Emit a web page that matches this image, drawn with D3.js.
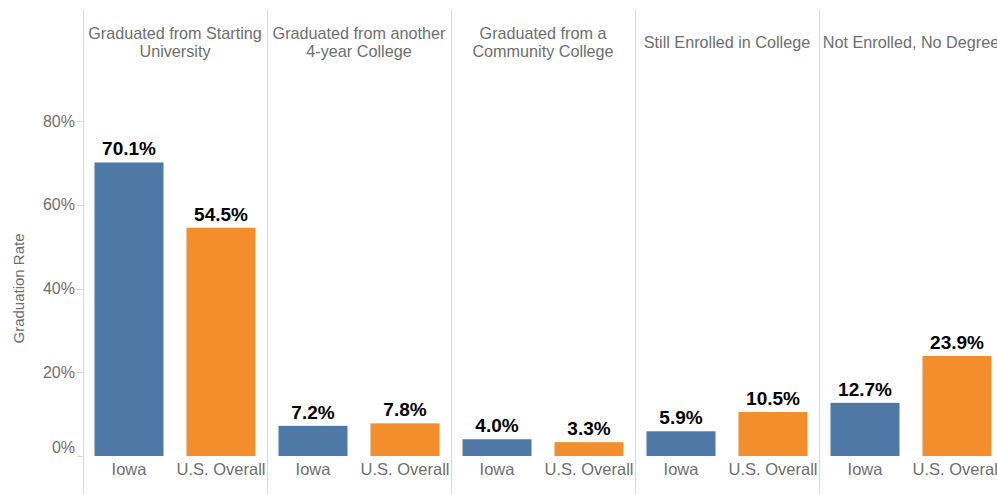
<!DOCTYPE html>
<html lang="en">
  <head>
    <title>Graduation Rate</title>
    <script src="https://d3js.org/d3.v7.min.js"></script>
    <style>
      body {
        margin: 0;
        background-color: #fff;
        font-family: "Liberation Sans", Arial, sans-serif;
      }
      .sep {
        stroke: #d9d9d9;
        stroke-width: 1px;
      }
      .header,
      .cat,
      .tick-label,
      .axis-title {
        fill: #6e6e6e;
      }
      .header {
        font-size: 16.2px;
      }
      .cat {
        font-size: 16.5px;
      }
      .tick-label {
        font-size: 16px;
      }
      .axis-title {
        font-size: 15px;
      }
      .value {
        fill: #000;
        font-size: 19px;
        font-weight: 700;
      }
    </style>
  </head>
  <body>
    <div id="chart"></div>
    <script>
      // data
      const outcomes = [
        ["Graduated from Starting", "University"],
        ["Graduated from another", "4-year College"],
        ["Graduated from a", "Community College"],
        ["Still Enrolled in College"],
        ["Not Enrolled, No Degree"],
      ];
      const groups = ["Iowa", "U.S. Overall"];
      const iowa = [70.1, 7.2, 4.0, 5.9, 12.7];
      const usOverall = [54.5, 7.8, 3.3, 10.5, 23.9];
      const yTicks = [0, 20, 40, 60, 80];
      const colors = ["#4e79a7", "#f28e2b"];

      const width = 997;
      const height = 494;
      const marginLeft = 83;
      const panelW = 184;
      const marginTop = 10;

      const svg = d3
        .select("#chart")
        .append("svg")
        .attr("width", width)
        .attr("height", height);

      const y = d3.scaleLinear().domain([0, 80]).range([456, 121]);

      const panel = d3
        .scaleBand()
        .domain(d3.range(outcomes.length))
        .range([marginLeft, marginLeft + panelW * outcomes.length]);

      const x = d3
        .scaleBand()
        .domain(groups)
        .range([0, panelW])
        .paddingInner(0.25)
        .paddingOuter(0.125);

      // separators
      svg
        .selectAll("line.sep")
        .data(d3.range(outcomes.length + 1))
        .enter()
        .append("line")
        .attr("class", "sep")
        .attr("x1", (i) => marginLeft + i * panelW + 0.5)
        .attr("x2", (i) => marginLeft + i * panelW + 0.5)
        .attr("y1", marginTop)
        .attr("y2", height);

      // y axis
      const yAxis = svg.append("g");
      yAxis
        .selectAll("line")
        .data(yTicks)
        .enter()
        .append("line")
        .attr("class", "sep")
        .attr("x1", marginLeft - 6)
        .attr("x2", marginLeft)
        .attr("y1", (d) => Math.round(y(d)) + 0.5)
        .attr("y2", (d) => Math.round(y(d)) + 0.5);
      yAxis
        .selectAll("text")
        .data(yTicks)
        .enter()
        .append("text")
        .attr("class", "tick-label")
        .attr("text-anchor", "end")
        .attr("x", marginLeft - 8)
        .attr("y", (d) => (d === 0 ? y(d) - 9 : y(d)))
        .attr("dy", "0.35em")
        .text((d) => d + "%");

      svg
        .append("text")
        .attr("class", "axis-title")
        .attr("text-anchor", "middle")
        .attr("transform", `translate(24,${y(40)}) rotate(-90)`)
        .text("Graduation Rate");

      // panels
      outcomes.forEach((title, i) => {
        const g = svg
          .append("g")
          .attr("transform", `translate(${panel(i)},0)`);

        const baseY = title.length > 1 ? 39 : 48;
        g.append("text")
          .attr("class", "header")
          .attr("text-anchor", "middle")
          .attr("x", panelW / 2)
          .attr("y", baseY)
          .selectAll("tspan")
          .data(title)
          .enter()
          .append("tspan")
          .attr("x", panelW / 2)
          .attr("dy", (d, k) => (k === 0 ? 0 : 18))
          .text((d) => d);

        const vals = [iowa[i], usOverall[i]];
        g.selectAll("rect")
          .data(groups)
          .enter()
          .append("rect")
          .attr("x", (d) => x(d))
          .attr("width", x.bandwidth())
          .attr("y", (d, k) => y(vals[k]))
          .attr("height", (d, k) => y(0) - y(vals[k]))
          .attr("fill", (d, k) => colors[k]);

        g.selectAll("text.value")
          .data(groups)
          .enter()
          .append("text")
          .attr("class", "value")
          .attr("text-anchor", "middle")
          .attr("x", (d) => x(d) + x.bandwidth() / 2)
          .attr("y", (d, k) => y(vals[k]) - 7)
          .text((d, k) => vals[k].toFixed(1) + "%");

        g.selectAll("text.cat")
          .data(groups)
          .enter()
          .append("text")
          .attr("class", "cat")
          .attr("text-anchor", "middle")
          .attr("x", (d) => x(d) + x.bandwidth() / 2)
          .attr("y", 475)
          .text((d) => d);
      });
    </script>
  </body>
</html>
